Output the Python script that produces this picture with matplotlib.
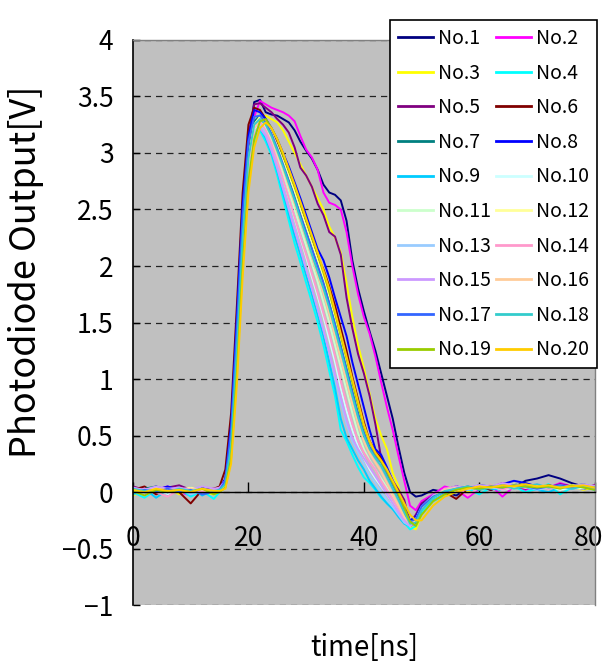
import matplotlib
matplotlib.use('Agg')
import matplotlib.pyplot as plt
from matplotlib.transforms import ScaledTranslation

plt.rcParams['font.family'] = ['Noto Sans CJK JP', 'DejaVu Sans']

# sample times [ns]: coarse on the flat baseline, 1 ns through the pulse
t_ns = list(range(0, 15, 2)) + list(range(15, 51)) + list(range(52, 81, 2))

# photodiode output [V] for each shot
no1 = [0.03, 0.0, 0.05, -0.02, 0.03, 0.0, 0.04, 0.02, 0.03, 0.1, 0.5, 1.4, 2.45, 3.1, 3.45, 3.47,
       3.36, 3.34, 3.33, 3.3, 3.27, 3.2, 3.1,
       3.02, 2.95, 2.85, 2.72, 2.65, 2.63, 2.58,
       2.4, 2.05, 1.8, 1.6, 1.42, 1.25, 1.05,
       0.85, 0.65, 0.4, 0.17, 0.0, -0.04, -0.03,
       0.02, 0.0, -0.03, 0.03, 0.05, 0.02, 0.05, 0.04, 0.1, 0.12, 0.15, 0.12, 0.08, 0.05, 0.03]
no2 = [0.0, 0.04, 0.02, 0.05, 0.0, -0.03, 0.02, 0.03, 0.02, 0.07, 0.42, 1.3, 2.35, 3.0, 3.32, 3.46,
       3.43, 3.4, 3.38, 3.36, 3.33, 3.28, 3.15,
       3.03, 2.96, 2.85, 2.65, 2.56, 2.54, 2.5,
       2.3, 2.0, 1.75, 1.55, 1.4, 1.2, 0.97,
       0.75, 0.55, 0.32, 0.1, -0.12, -0.16, -0.08,
       -0.02, 0.05, 0.02, -0.05, 0.03, 0.06, -0.04, 0.05, 0.02, 0.06, 0.04, 0.08, 0.05, 0.03, 0.06]
no3 = [-0.03, 0.02, 0.0, 0.04, -0.02, 0.03, 0.0, -0.02, 0.0, 0.05, 0.35, 1.15, 2.1, 2.85, 3.2, 3.3,
       3.33, 3.3, 3.27, 3.2, 3.1, 3.0, 2.9,
       2.8, 2.7, 2.6, 2.5, 2.35, 2.25, 2.12,
       1.85, 1.55, 1.3, 1.1, 0.87, 0.65, 0.5,
       0.38, 0.17, 0.05, -0.18, -0.3, -0.33, -0.2,
       -0.08, -0.02, 0.03, 0.0, 0.05, 0.03, 0.07, 0.05, 0.08, 0.04, 0.06, 0.03, 0.05, 0.02, 0.04]
no4 = [0.0, -0.05, 0.02, 0.0, 0.03, -0.04, 0.01, -0.06, 0.0, 0.05, 0.35, 1.15, 2.1, 2.8, 3.1, 3.2,
       3.1, 2.98, 2.8, 2.6, 2.4, 2.2, 2.03,
       1.85, 1.68, 1.5, 1.3, 1.07, 0.85, 0.55,
       0.45, 0.33, 0.22, 0.13, 0.08, 0.02, -0.05,
       -0.1, -0.15, -0.2, -0.27, -0.33, -0.3, -0.18,
       -0.08, -0.03, 0.0, 0.03, -0.02, 0.04, 0.02, 0.05, 0.0, 0.03, 0.07, -0.02, 0.04, 0.06, 0.02]
no5 = [0.05, 0.02, 0.0, 0.04, 0.06, 0.02, 0.0, 0.03, 0.02, 0.1, 0.5, 1.45, 2.5, 3.15, 3.43, 3.44,
       3.4, 3.36, 3.3, 3.25, 3.18, 3.05, 2.87,
       2.8, 2.7, 2.55, 2.45, 2.3, 2.26, 2.1,
       1.72, 1.45, 1.22, 1.05, 0.85, 0.6, 0.3,
       0.2, 0.1, 0.02, -0.07, -0.27, -0.2, -0.1,
       -0.03, 0.02, 0.05, 0.03, 0.06, 0.04, 0.08, 0.05, 0.03, 0.06, 0.04, 0.07, 0.05, 0.04, 0.06]
no6 = [0.02, 0.05, -0.02, 0.03, 0.0, -0.1, 0.02, 0.03, 0.05, 0.2, 0.7, 1.65, 2.65, 3.25, 3.4, 3.38,
       3.3, 3.2, 3.1, 2.97, 2.82, 2.68, 2.52,
       2.38, 2.22, 2.08, 1.97, 1.82, 1.65, 1.45,
       1.25, 1.02, 0.82, 0.62, 0.45, 0.36, 0.3,
       0.18, 0.07, -0.05, -0.18, -0.3, -0.27, -0.15,
       -0.05, 0.0, -0.06, 0.03, 0.05, 0.02, 0.06, 0.04, 0.05, 0.03, 0.06, 0.04, 0.05, 0.03, 0.05]
no7 = [0.0, 0.03, 0.05, 0.02, 0.04, 0.0, 0.03, 0.01, 0.02, 0.08, 0.45, 1.3, 2.3, 2.98, 3.28, 3.33,
       3.28, 3.18, 3.05, 2.92, 2.78, 2.63, 2.48,
       2.33, 2.18, 2.03, 1.88, 1.7, 1.52, 1.33,
       1.13, 0.93, 0.73, 0.56, 0.42, 0.32, 0.25,
       0.15, 0.05, -0.05, -0.17, -0.28, -0.26, -0.15,
       -0.05, 0.0, 0.03, 0.05, 0.02, 0.06, 0.04, 0.07, 0.05, 0.03, 0.06, 0.04, 0.05, 0.07, 0.04]
no8 = [0.03, 0.0, 0.02, 0.05, 0.02, 0.03, 0.0, 0.02, 0.03, 0.12, 0.6, 1.55, 2.55, 3.15, 3.38, 3.36,
       3.3, 3.22, 3.12, 3.0, 2.88, 2.74, 2.6,
       2.45, 2.3, 2.15, 2.05, 1.9, 1.72, 1.55,
       1.38, 1.15, 0.95, 0.75, 0.55, 0.38, 0.33,
       0.22, 0.1, -0.02, -0.15, -0.25, -0.22, -0.12,
       -0.03, 0.02, 0.05, 0.03, 0.06, 0.05, 0.07, 0.1, 0.08, 0.05, 0.04, 0.06, 0.05, 0.03, 0.05]
no9 = [-0.02, 0.03, -0.05, 0.02, 0.0, 0.04, -0.03, 0.02, 0.0, 0.06, 0.4, 1.2, 2.15, 2.85, 3.15, 3.22,
       3.13, 3.0, 2.84, 2.65, 2.46, 2.27, 2.1,
       1.92, 1.75, 1.57, 1.38, 1.15, 0.92, 0.65,
       0.48, 0.38, 0.28, 0.2, 0.1, 0.03, -0.04,
       -0.1, -0.15, -0.22, -0.28, -0.3, -0.26, -0.15,
       -0.06, 0.0, 0.04, 0.02, 0.05, 0.03, 0.02, 0.06, 0.04, 0.02, 0.0, 0.04, 0.03, 0.05, 0.02]
no10 = [0.02, 0.0, 0.03, -0.02, 0.02, 0.0, 0.03, 0.0, 0.01, 0.06, 0.38, 1.2, 2.2, 2.9, 3.2, 3.28,
        3.2, 3.08, 2.94, 2.78, 2.6, 2.42, 2.25,
        2.08, 1.9, 1.73, 1.55, 1.35, 1.15, 0.92,
        0.72, 0.55, 0.4, 0.3, 0.2, 0.12, 0.05,
        -0.02, -0.1, -0.18, -0.25, -0.3, -0.25, -0.14,
        -0.04, 0.02, 0.0, 0.04, 0.03, 0.05, 0.02, 0.04, 0.06, 0.03, 0.05, 0.02, 0.04, 0.03, 0.05]
no11 = [0.0, 0.02, 0.04, 0.0, 0.03, 0.02, 0.0, 0.03, 0.02, 0.07, 0.42, 1.25, 2.25, 2.95, 3.25, 3.3,
        3.23, 3.12, 2.98, 2.83, 2.67, 2.5, 2.34,
        2.18, 2.02, 1.86, 1.68, 1.5, 1.3, 1.1,
        0.9, 0.7, 0.52, 0.38, 0.28, 0.2, 0.12,
        0.04, -0.05, -0.13, -0.22, -0.28, -0.24, -0.13,
        -0.03, 0.02, 0.04, 0.03, 0.06, 0.04, 0.05, 0.03, 0.06, 0.04, 0.05, 0.03, 0.06, 0.04, 0.05]
no12 = [0.03, 0.01, 0.0, 0.03, 0.02, 0.04, 0.01, 0.0, 0.01, 0.06, 0.4, 1.22, 2.22, 2.93, 3.25, 3.32,
        3.28, 3.18, 3.06, 2.93, 2.8, 2.66, 2.5,
        2.35, 2.2, 2.05, 1.9, 1.73, 1.55, 1.36,
        1.16, 0.96, 0.76, 0.58, 0.43, 0.32, 0.25,
        0.14, 0.04, -0.06, -0.18, -0.27, -0.25, -0.14,
        -0.04, 0.01, 0.04, 0.05, 0.03, 0.06, 0.05, 0.07, 0.04, 0.06, 0.05, 0.04, 0.06, 0.05, 0.04]
no13 = [0.01, -0.03, 0.02, 0.0, 0.03, -0.02, 0.01, 0.02, 0.0, 0.05, 0.37, 1.18, 2.15, 2.85, 3.18, 3.25,
        3.17, 3.04, 2.88, 2.7, 2.52, 2.34, 2.16,
        1.98, 1.8, 1.62, 1.44, 1.23, 1.02, 0.8,
        0.6, 0.45, 0.35, 0.25, 0.15, 0.08, 0.0,
        -0.07, -0.13, -0.2, -0.27, -0.3, -0.26, -0.14,
        -0.05, 0.0, 0.03, 0.02, 0.05, 0.04, 0.03, 0.06, 0.05, 0.02, 0.04, 0.05, 0.03, 0.06, 0.03]
no14 = [0.0, 0.03, 0.0, -0.04, 0.02, 0.03, 0.0, 0.02, 0.02, 0.08, 0.45, 1.3, 2.3, 2.95, 3.22, 3.28,
        3.2, 3.08, 2.93, 2.77, 2.6, 2.43, 2.26,
        2.1, 1.93, 1.76, 1.58, 1.4, 1.2, 0.98,
        0.78, 0.6, 0.45, 0.35, 0.27, 0.2, 0.1,
        0.02, -0.06, -0.15, -0.24, -0.29, -0.25, -0.14,
        -0.04, 0.03, 0.05, -0.03, 0.04, 0.06, 0.02, 0.05, 0.04, 0.07, 0.03, 0.05, 0.04, 0.06, 0.03]
no15 = [0.04, 0.02, 0.05, 0.03, 0.04, 0.02, 0.05, 0.03, 0.04, 0.1, 0.45, 1.25, 2.2, 2.88, 3.15, 3.22,
        3.15, 3.02, 2.86, 2.68, 2.5, 2.32, 2.15,
        1.97, 1.8, 1.62, 1.43, 1.24, 1.04, 0.84,
        0.64, 0.48, 0.38, 0.3, 0.22, 0.14, 0.06,
        -0.02, -0.1, -0.18, -0.25, -0.3, -0.26, -0.15,
        -0.03, 0.02, 0.05, 0.04, 0.06, 0.05, 0.08, 0.06, 0.05, 0.07, 0.04, 0.06, 0.05, 0.07, 0.05]
no16 = [0.02, 0.0, 0.03, 0.02, 0.0, 0.03, 0.02, 0.0, 0.01, 0.06, 0.4, 1.22, 2.22, 2.92, 3.22, 3.3,
        3.25, 3.14, 3.0, 2.86, 2.7, 2.55, 2.4,
        2.24, 2.08, 1.92, 1.76, 1.58, 1.38, 1.18,
        0.98, 0.78, 0.6, 0.45, 0.34, 0.26, 0.18,
        0.08, -0.02, -0.12, -0.22, -0.28, -0.25, -0.14,
        -0.04, 0.02, 0.04, 0.03, 0.05, 0.04, 0.06, 0.05, 0.04, 0.06, 0.05, 0.04, 0.06, 0.05, 0.04]
no17 = [0.0, 0.02, 0.0, 0.03, 0.0, 0.02, -0.02, 0.0, 0.02, 0.1, 0.55, 1.45, 2.45, 3.1, 3.32, 3.33,
        3.27, 3.17, 3.04, 2.9, 2.75, 2.6, 2.45,
        2.3, 2.15, 2.0, 1.85, 1.67, 1.48, 1.28,
        1.08, 0.88, 0.68, 0.52, 0.4, 0.32, 0.26,
        0.16, 0.06, -0.04, -0.15, -0.26, -0.24, -0.13,
        -0.04, 0.0, 0.03, 0.05, 0.03, 0.05, 0.04, 0.06, 0.05, 0.03, 0.05, 0.06, 0.04, 0.05, 0.04]
no18 = [0.03, 0.01, 0.02, 0.0, 0.03, 0.01, 0.03, 0.01, 0.02, 0.07, 0.42, 1.25, 2.25, 2.95, 3.25, 3.3,
        3.25, 3.15, 3.02, 2.88, 2.73, 2.58, 2.42,
        2.26, 2.1, 1.95, 1.8, 1.63, 1.44, 1.25,
        1.05, 0.85, 0.66, 0.5, 0.38, 0.3, 0.23,
        0.13, 0.03, -0.07, -0.18, -0.28, -0.27, -0.16,
        -0.05, 0.01, 0.03, 0.05, 0.02, 0.04, 0.06, 0.03, 0.05, 0.07, 0.04, 0.05, 0.03, 0.05, 0.04]
no19 = [0.01, -0.03, 0.02, 0.0, 0.02, 0.0, 0.03, -0.02, 0.0, 0.04, 0.3, 1.05, 2.0, 2.75, 3.12, 3.28,
        3.3, 3.22, 3.12, 2.98, 2.84, 2.7, 2.55,
        2.4, 2.25, 2.1, 1.94, 1.77, 1.58, 1.38,
        1.18, 0.97, 0.77, 0.58, 0.44, 0.34, 0.27,
        0.18, 0.08, -0.02, -0.14, -0.26, -0.3, -0.2,
        -0.08, -0.02, 0.02, 0.04, 0.03, 0.05, 0.04, 0.06, 0.05, 0.04, 0.05, 0.03, 0.06, 0.04, 0.02]
no20 = [0.02, 0.0, 0.03, 0.01, 0.02, 0.0, 0.03, 0.01, 0.01, 0.03, 0.25, 0.95, 1.9, 2.65, 3.05, 3.22,
        3.27, 3.22, 3.12, 3.0, 2.86, 2.72, 2.57,
        2.42, 2.27, 2.12, 1.96, 1.8, 1.6, 1.4,
        1.2, 1.0, 0.8, 0.6, 0.45, 0.35, 0.28,
        0.2, 0.1, 0.0, -0.1, -0.2, -0.25, -0.25,
        -0.12, -0.04, 0.0, 0.03, 0.05, 0.04, 0.06, 0.05, 0.07, 0.05, 0.06, 0.04, 0.05, 0.06, 0.04]

series = [no1, no2, no3, no4, no5, no6, no7, no8, no9, no10,
          no11, no12, no13, no14, no15, no16, no17, no18, no19, no20]
names = ['No.%d' % (i + 1) for i in range(len(series))]
colors = ['#000080', '#FF00FF', '#FFFF00', '#00FFFF', '#800080',
          '#800000', '#008080', '#0000FF', '#00CCFF', '#CCFFFF',
          '#CCFFCC', '#FFFF99', '#99CCFF', '#FF99CC', '#CC99FF',
          '#FFCC99', '#3366FF', '#33CCCC', '#99CC00', '#FFCC00']

x_ticks = [0, 20, 40, 60, 80]
y_ticks = [-1, -0.5, 0, 0.5, 1, 1.5, 2, 2.5, 3, 3.5, 4]
y_tick_labels = ['\u22121', '\u22120.5', '0', '0.5', '1', '1.5', '2', '2.5', '3', '3.5', '4']

fig = plt.figure(figsize=(6.1, 6.65), dpi=100)
ax = fig.add_axes([0.218, 0.09, 0.757, 0.85])
ax.set_facecolor('#C0C0C0')

lines = []
for name, col, vals in zip(names, colors, series):
    ln, = ax.plot(t_ns, vals, color=col, lw=1.4, label=name)
    lines.append(ln)

ax.set_xlim(0, 80)
ax.set_ylim(-1, 4)
ax.set_xticks(x_ticks)
ax.set_yticks(y_ticks)
ax.set_yticklabels(y_tick_labels)

ax.yaxis.grid(True, color='#222222', linestyle=(0, (5, 4)), linewidth=0.9)
ax.set_axisbelow(True)

ax.spines['bottom'].set_position(('data', 0))
ax.spines['bottom'].set_linewidth(1.0)
ax.spines['left'].set_linewidth(1.2)
for side in ('top', 'right'):
    ax.spines[side].set_color('#808080')
    ax.spines[side].set_linewidth(1.0)

ax.tick_params(axis='x', direction='in', length=7, width=1, pad=24, labelsize=19)
ax.tick_params(axis='y', direction='in', length=5, width=1, pad=14, labelsize=19)

# keep the last x label inside the figure, like the original
lab = ax.get_xticklabels()[-1]
lab.set_transform(lab.get_transform() + ScaledTranslation(-0.06, 0, fig.dpi_scale_trans))

# legend filled row by row: odd numbers left, even numbers right
order = list(range(0, 20, 2)) + list(range(1, 20, 2))
leg = ax.legend([lines[i] for i in order], [names[i] for i in order],
                loc='upper right', bbox_to_anchor=(1.005, 1.035), ncol=2,
                fontsize=14, frameon=True, fancybox=False, edgecolor='black',
                framealpha=1, handlelength=1.8, handletextpad=0.25,
                columnspacing=0.3, labelspacing=0.7, borderpad=0.4,
                borderaxespad=0)
leg.get_frame().set_linewidth(1.2)
for h in leg.get_lines():
    h.set_linewidth(2)

fig.text(364 / 610, 1 - 648 / 665, 'time[ns]', ha='center', va='center', fontsize=20)
fig.text(26 / 610, 1 - 272 / 665, 'Photodiode Output[V]', ha='center', va='center',
         rotation=90, fontsize=26)

fig.savefig('out.png', dpi=100)
plt.close(fig)
